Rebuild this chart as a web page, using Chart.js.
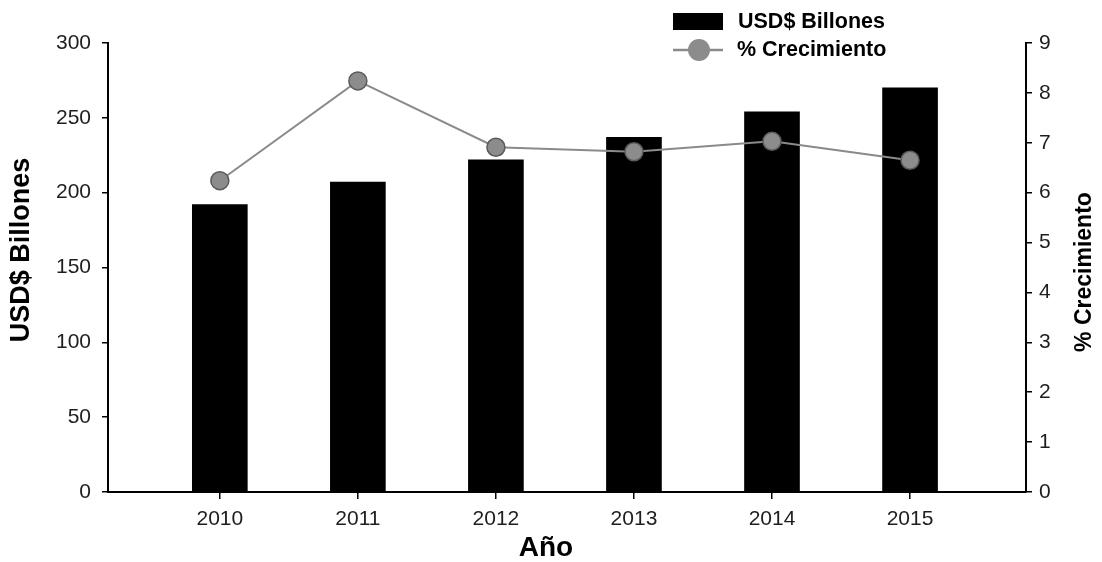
<!DOCTYPE html>
<html>
<head>
<meta charset="utf-8">
<script src="https://cdn.jsdelivr.net/npm/chart.js@4/dist/chart.umd.min.js"></script>
<style>
  html, body { margin: 0; padding: 0; background: #fff; }
  #wrap { width: 1102px; height: 562px; position: relative; }
</style>
</head>
<body>
<div id="wrap"><canvas id="c" width="1102" height="562"></canvas></div>
<script>
// Años y valores de las dos series
const years = [2010, 2011, 2012, 2013, 2014, 2015];
const billones = [192, 207, 222, 237, 254, 270];
const crecimiento = [6.24, 8.24, 6.91, 6.82, 7.03, 6.65];

// Etiquetas de los ejes y la leyenda
const leftTicks = [0, 50, 100, 150, 200, 250, 300];
const rightTicks = [0, 1, 2, 3, 4, 5, 6, 7, 8, 9];
const labelBars = 'USD$ Billones';
const labelLine = '% Crecimiento';
const titleX = 'Año';

const FONT = '"Liberation Sans", Arial, Helvetica, sans-serif';
const TICK_COLOR = '#1e1e1e';

// Títulos de los ejes (ambos verticales se leen de abajo hacia arriba)
const titlesPlugin = {
  id: 'axisTitles',
  afterDraw(chart) {
    const ctx = chart.ctx;
    const area = chart.chartArea;
    ctx.save();
    ctx.fillStyle = '#000';
    ctx.textAlign = 'center';
    ctx.textBaseline = 'middle';

    ctx.font = 'bold 27px ' + FONT;
    ctx.save();
    ctx.translate(22, 250);
    ctx.rotate(-Math.PI / 2);
    ctx.fillText(labelBars, 0, 0);
    ctx.restore();

    ctx.font = 'bold 23px ' + FONT;
    ctx.save();
    ctx.translate(1085, 272);
    ctx.rotate(-Math.PI / 2);
    ctx.fillText(labelLine, 0, 0);
    ctx.restore();

    ctx.font = 'bold 28px ' + FONT;
    ctx.fillText(titleX, 546, 548);
    ctx.restore();
  }
};

// Leyenda dibujada en la esquina superior derecha
const legendPlugin = {
  id: 'cornerLegend',
  afterDraw(chart) {
    const ctx = chart.ctx;
    const bar = chart.data.datasets[1];
    const line = chart.data.datasets[0];
    ctx.save();
    ctx.fillStyle = bar.backgroundColor;
    ctx.fillRect(673, 13, 50, 17);
    ctx.strokeStyle = line.borderColor;
    ctx.lineWidth = 2.5;
    ctx.beginPath();
    ctx.moveTo(673, 50);
    ctx.lineTo(723, 50);
    ctx.stroke();
    ctx.fillStyle = line.pointBackgroundColor;
    ctx.beginPath();
    ctx.arc(699, 50, 11, 0, Math.PI * 2);
    ctx.fill();
    ctx.fillStyle = '#000';
    ctx.font = 'bold 21.5px ' + FONT;
    ctx.textBaseline = 'middle';
    ctx.textAlign = 'left';
    ctx.fillText(bar.label, 738, 22);
    ctx.fillText(line.label, 737, 50);
    ctx.restore();
  }
};

new Chart(document.getElementById('c'), {
  type: 'bar',
  data: {
    datasets: [
      {
        type: 'line',
        label: labelLine,
        data: years.map((y, i) => ({ x: y, y: crecimiento[i] })),
        yAxisID: 'y1',
        borderColor: '#8a8a8a',
        borderWidth: 2,
        pointRadius: 9,
        pointBackgroundColor: '#8c8c8c',
        pointBorderColor: '#5a5a5a',
        pointBorderWidth: 1.5,
        tension: 0,
        order: 0
      },
      {
        type: 'bar',
        label: labelBars,
        data: years.map((y, i) => ({ x: y, y: billones[i] })),
        yAxisID: 'y',
        backgroundColor: '#000',
        barThickness: 55,
        order: 1
      }
    ]
  },
  plugins: [legendPlugin, titlesPlugin],
  options: {
    responsive: false,
    animation: false,
    devicePixelRatio: 1,
    layout: { padding: { top: 43, left: 0, right: 0, bottom: 0 } },
    plugins: { legend: { display: false }, tooltip: { enabled: false } },
    scales: {
      x: {
        type: 'linear',
        offset: false,
        min: 2009.19,
        max: 2015.84,
        afterBuildTicks: s => { s.ticks = years.map(v => ({ value: v })); },
        afterFit: s => { s.height = 70; },
        border: { color: '#000', width: 2 },
        grid: { offset: false, drawOnChartArea: false, drawTicks: true, tickLength: 7, color: '#000', lineWidth: 1.5 },
        ticks: {
          callback: v => String(v),
          autoSkip: false,
          color: TICK_COLOR,
          font: { family: FONT, size: 21 },
          padding: 8,
          maxRotation: 0
        }
      },
      y: {
        position: 'left',
        min: 0,
        max: 300,
        afterBuildTicks: s => { s.ticks = leftTicks.map(v => ({ value: v })); },
        afterFit: s => { s.width = 108; },
        border: { color: '#000', width: 2 },
        grid: { drawOnChartArea: false, tickLength: 6, color: '#000', lineWidth: 1.5 },
        ticks: { autoSkip: false, color: TICK_COLOR, font: { family: FONT, size: 21 }, padding: 11 }
      },
      y1: {
        position: 'right',
        min: 0,
        max: 9,
        afterBuildTicks: s => { s.ticks = rightTicks.map(v => ({ value: v })); },
        afterFit: s => { s.width = 76; },
        border: { color: '#000', width: 2 },
        grid: { drawOnChartArea: false, tickLength: 6, color: '#000', lineWidth: 1.5 },
        ticks: { autoSkip: false, color: TICK_COLOR, font: { family: FONT, size: 21 }, padding: 7 }
      }
    }
  }
});
</script>
</body>
</html>
